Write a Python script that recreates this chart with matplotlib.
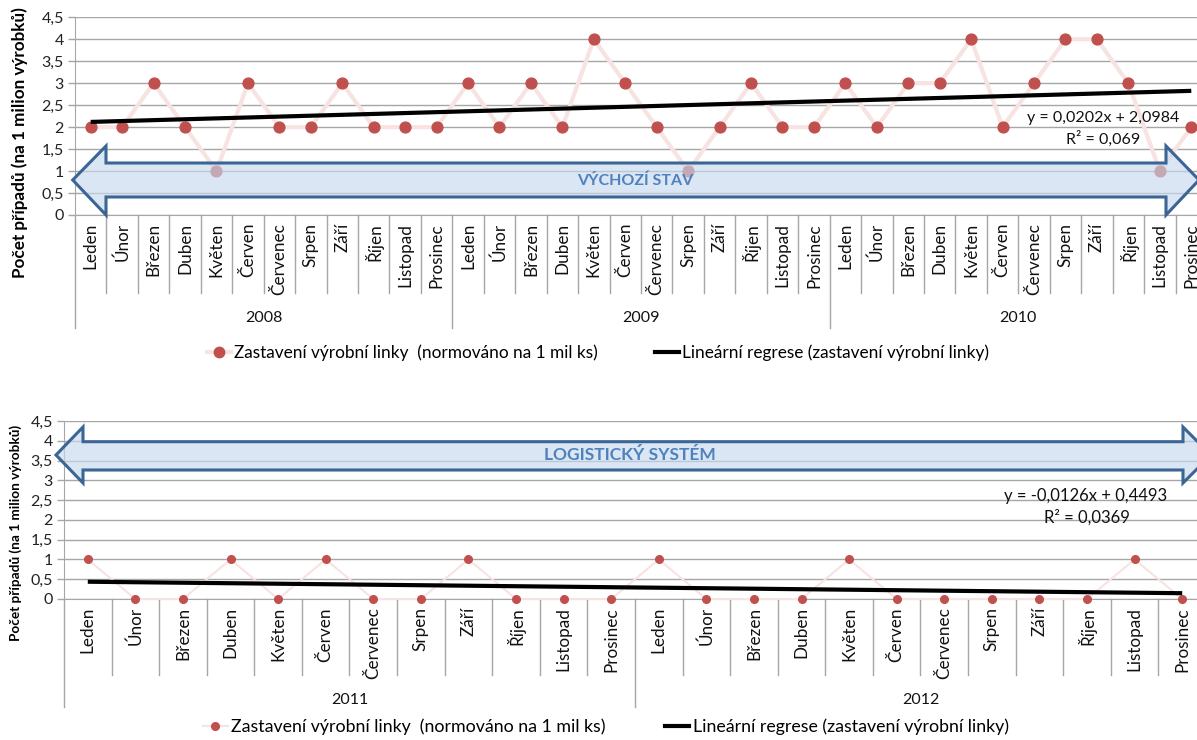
import numpy as np
import matplotlib
matplotlib.use("Agg")
import matplotlib.pyplot as plt
from matplotlib.patches import Polygon
from matplotlib.lines import Line2D
import matplotlib.transforms as mtrans

plt.rcParams['font.family'] = ['Lato', 'DejaVu Sans']

months = ["Leden", "Únor", "Březen", "Duben", "Květen", "Červen", "Červenec",
          "Srpen", "Září", "Říjen", "Listopad", "Prosinec"]
years_top = ["2008", "2009", "2010"]
years_bot = ["2011", "2012"]
values_top = [2, 2, 3, 2, 1, 3, 2, 2, 3, 2, 2, 2,
              3, 2, 3, 2, 4, 3, 2, 1, 2, 3, 2, 2,
              3, 2, 3, 3, 4, 2, 3, 4, 4, 3, 1, 2]
values_bot = [1, 0, 0, 1, 0, 1, 0, 0, 1, 0, 0, 0,
              1, 0, 0, 0, 1, 0, 0, 0, 0, 0, 1, 0]
yticks = [0, 0.5, 1, 1.5, 2, 2.5, 3, 3.5, 4, 4.5]
legend_series = "Zastavení výrobní linky  (normováno na 1 mil ks)"
legend_trend = "Lineární regrese (zastavení výrobní linky)"
ylabel = "Počet případů (na 1 milion výrobků)"

W, H = 1197, 740
fig = plt.figure(figsize=(W / 100, H / 100), dpi=100)

GRID = "#A6A6A6"
PINK = "#F7E3E2"
RED = "#C0504D"
ABORDER = "#3B6595"
AFILL = (0.78, 0.85, 0.93, 0.65)
ATEXT = "#4F81BD"


def fx(px):
    return px / W


def fy(py):
    return 1 - py / H


def yfmt(v):
    return ("%g" % v).replace(".", ",")


def make_panel(left, right, top, bottom, values, years, msize, lw_series,
               lab_top, sep_bot, year_sep_bot, year_y, tick_fs, lab_fs,
               eq_pos, r2_pos, eq_fs):
    ax = fig.add_axes([fx(left), fy(bottom), fx(right - left), (bottom - top) / H])
    n = len(values)
    x = np.arange(n)
    ax.set_xlim(-0.5, n - 0.5)
    ax.set_ylim(0, 4.5)
    ax.set_yticks(yticks)
    ax.set_yticklabels([yfmt(v) for v in yticks], fontsize=tick_fs, color="#222222")
    ax.yaxis.grid(True, color=GRID, lw=1.0)
    ax.set_axisbelow(True)
    ax.set_xticks([])
    for s in ["top", "right"]:
        ax.spines[s].set_visible(False)
    ax.spines["left"].set_color(GRID)
    ax.spines["bottom"].set_color(GRID)
    ax.tick_params(axis="y", length=5, color=GRID, width=1, pad=3)

    ax.plot(x, values, color=PINK, lw=lw_series, marker="o", ms=msize,
            mfc=RED, mec=RED, zorder=3, clip_on=False)
    k, q = np.polyfit(x + 1, values, 1)
    ax.plot(x, k * (x + 1) + q, color="black", lw=3, zorder=4,
            solid_capstyle="butt", clip_on=False)
    r = np.corrcoef(x + 1, values)[0, 1] ** 2

    sgn = "-" if k < 0 else ""
    eq = "y = %s%sx + %s" % (sgn, ("%.4f" % abs(k)).replace(".", ","),
                             ("%.4f" % q).replace(".", ","))
    fig.text(fx(eq_pos[0]), fy(eq_pos[1]), eq, ha="center", va="center",
             fontsize=eq_fs, color="#111111")
    r2s = ("%.4f" % r).rstrip("0").replace(".", ",")
    fig.text(fx(r2_pos[0]), fy(r2_pos[1]), "R² = " + r2s, ha="center",
             va="center", fontsize=eq_fs, color="#111111")

    tr = mtrans.blended_transform_factory(ax.transData, fig.transFigure)
    for i in range(n):
        ax.text(i, fy(lab_top), months[i % 12], rotation=90, ha="center",
                va="top", fontsize=lab_fs, transform=tr, color="#111111")
    for i in range(n + 1):
        b = i - 0.5
        yb = year_sep_bot if i % 12 == 0 else sep_bot
        ax.add_line(Line2D([b, b], [fy(bottom), fy(yb)], transform=tr,
                           color=GRID, lw=1.0, clip_on=False))
    for j, yr in enumerate(years):
        ax.text(j * 12 + 5.5, fy(year_y), yr, ha="center", va="center",
                fontsize=tick_fs, transform=tr, color="#111111")
    return ax


def arrow(xl, xhb_l, xhb_r, xr, ymid, yb_top, yb_bot, yh_top, yh_bot):
    pts = [(xl, ymid), (xhb_l, yh_top), (xhb_l, yb_top), (xhb_r, yb_top),
           (xhb_r, yh_top), (xr, ymid), (xhb_r, yh_bot), (xhb_r, yb_bot),
           (xhb_l, yb_bot), (xhb_l, yh_bot)]
    pts = [(fx(a), fy(b)) for a, b in pts]
    poly = Polygon(pts, closed=True, transform=fig.transFigure,
                   facecolor=AFILL, edgecolor=ABORDER, lw=2.2, zorder=5,
                   joinstyle="miter")
    fig.patches.append(poly)


# ---------- top panel ----------
ax1 = make_panel(75, 1207, 17.3, 215, values_top, years_top, msize=7.8,
                 lw_series=3, lab_top=223, sep_bot=293, year_sep_bot=328,
                 year_y=318, tick_fs=11.5, lab_fs=12.3,
                 eq_pos=(1103, 118), r2_pos=(1103, 139), eq_fs=11.5)
fig.text(fx(20), fy(143), ylabel, rotation=90, ha="center", va="center",
         fontsize=12.3, fontweight="bold", color="black")
arrow(72.7, 106, 1166, 1199, 180, 163, 197, 146, 215)
fig.text(fx(635), fy(181), "VÝCHOZÍ STAV", ha="center", va="center",
         fontsize=11.5, fontweight="bold", color=ATEXT, zorder=6)

# ---------- bottom panel ----------
ax2 = make_panel(64, 1206, 421, 599, values_bot, years_bot, msize=5.5,
                 lw_series=1.5, lab_top=607, sep_bot=675, year_sep_bot=707,
                 year_y=700, tick_fs=11.5, lab_fs=12.3,
                 eq_pos=(1086, 496), r2_pos=(1087, 517), eq_fs=12)
fig.text(fx(16), fy(533), ylabel, rotation=90, ha="center", va="center",
         fontsize=9.8, fontweight="bold", color="black")
arrow(56, 83, 1183, 1211, 455, 441.7, 470, 427, 483)
fig.text(fx(630), fy(455), "LOGISTICKÝ SYSTÉM", ha="center", va="center",
         fontsize=12.5, fontweight="bold", color=ATEXT, zorder=6)

# ---------- legends ----------
for (yy, cx, ms_, lw_, fs) in [(353, 598, 7.5, 3, 12.4), (727, 606, 5.5, 1.5, 12.8)]:
    h1 = Line2D([], [], color=PINK, lw=lw_, marker="o", ms=ms_, mfc=RED, mec=RED)
    h2 = Line2D([], [], color="black", lw=3)
    fig.legend([h1, h2], [legend_series, legend_trend], loc="center",
               bbox_to_anchor=(fx(cx), fy(yy)), ncol=2, frameon=False,
               fontsize=fs, handlelength=1.4, handletextpad=0.2,
               columnspacing=3.3)

fig.savefig("out.png", dpi=100)
